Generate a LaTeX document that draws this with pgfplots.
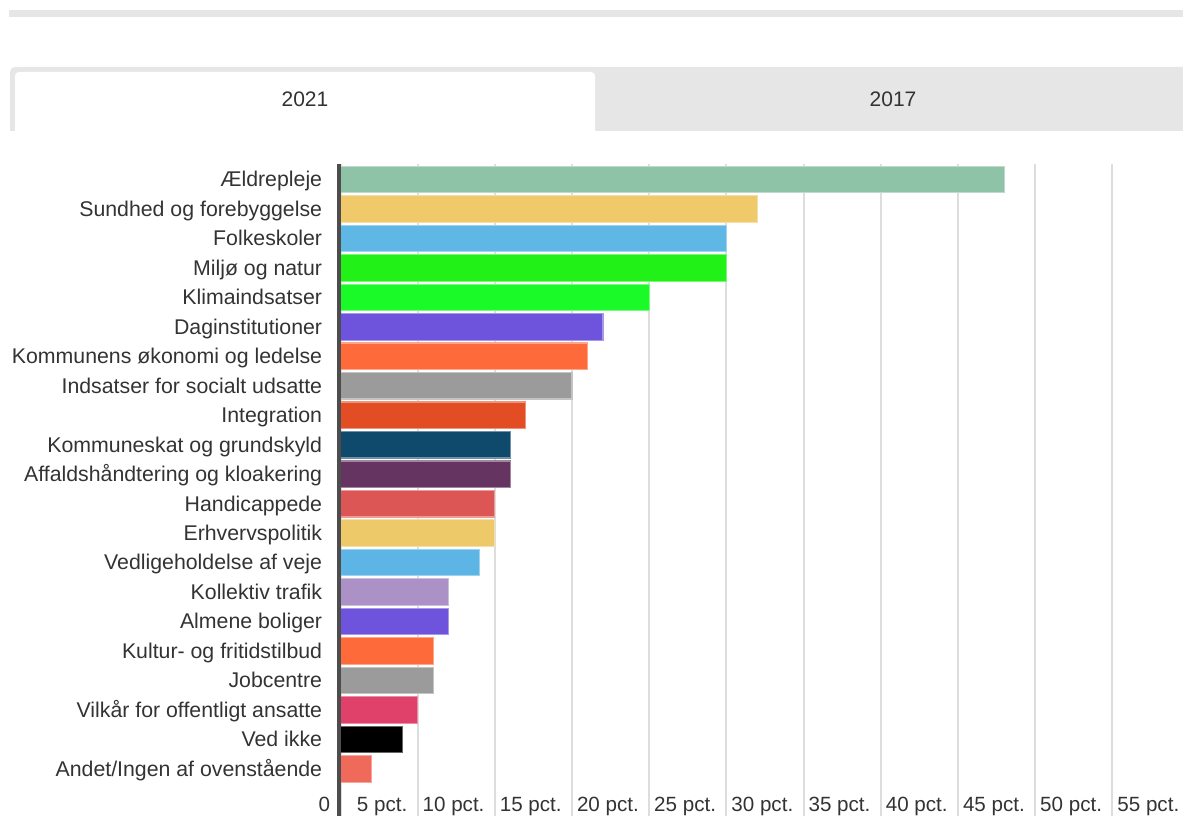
\documentclass[border=0pt]{standalone}
\usepackage{fontspec}
\setmainfont{Liberation Sans}
\usepackage{pgfplots}
\pgfplotsset{compat=1.18}

\definecolor{txt}{HTML}{333333}
\definecolor{tabgray}{HTML}{E6E6E6}
\definecolor{gridcol}{HTML}{DDDDDD}
\definecolor{axiscol}{HTML}{4D4D4D}
% bar colours, top to bottom
\definecolor{c20}{HTML}{8FC3A8}
\definecolor{c19}{HTML}{F0CA6A}
\definecolor{c18}{HTML}{5FB7E5}
\definecolor{c17}{HTML}{22F118}
\definecolor{c16}{HTML}{1AFA29}
\definecolor{c15}{HTML}{6E54DC}
\definecolor{c14}{HTML}{FF6A3A}
\definecolor{c13}{HTML}{9B9B9B}
\definecolor{c12}{HTML}{E34D24}
\definecolor{c11}{HTML}{0F4A6D}
\definecolor{c10}{HTML}{663461}
\definecolor{c9}{HTML}{DD5656}
\definecolor{c8}{HTML}{EEC96A}
\definecolor{c7}{HTML}{5DB5E5}
\definecolor{c6}{HTML}{AB91C6}
\definecolor{c5}{HTML}{6E54DC}
\definecolor{c4}{HTML}{FF6A3A}
\definecolor{c3}{HTML}{9B9B9B}
\definecolor{c2}{HTML}{E0416A}
\definecolor{c1}{HTML}{000000}
\definecolor{c0}{HTML}{F06A5C}

\pgfplotsset{
  b/.style={xbar, bar width=0.9, bar shift=0pt, fill=#1, draw=#1!60!white, line width=0.6pt},
}

\newcommand{\lab}{\fontsize{10.3}{12}\selectfont}
\newcommand{\ylab}{\fontsize{10.65}{12}\selectfont}

\begin{document}
\begin{tikzpicture}
\useasboundingbox (0,0) rectangle (591.5pt,408pt);

% page furniture, in reference pixels (y downwards)
\begin{scope}[yshift=408pt, x=0.5pt, y=-0.5pt]
  \fill[tabgray] (9,10) rectangle (1183,17);
  \fill[tabgray] (10,131) -- (10,72) arc[start angle=180, end angle=270, radius=5]
        -- (1183,67) -- (1183,131) -- cycle;
  \fill[white] (15,131) -- (15,76) arc[start angle=180, end angle=270, radius=4]
        -- (591,72) arc[start angle=270, end angle=360, radius=4] -- (595,131) -- cycle;
  \node[text=txt, font=\fontsize{10.5}{12}\selectfont] at (305,99) {2021};
  \node[text=txt, font=\fontsize{10.5}{12}\selectfont] at (893,99) {2017};
\end{scope}

\begin{axis}[
    at={(170.25pt,0pt)}, anchor=south west,
    scale only axis, width=421.25pt, height=326.25pt,
    xmin=0, xmax=54.57,
    ymin=-1.6, ymax=20.543,
    clip=false,
    axis line style={draw=none},
    major tick length=0pt,
    xmajorgrids,
    major grid style={gridcol, line width=1pt},
    xtick={0,5,...,50},
    xticklabels={0,5 pct.,10 pct.,15 pct.,20 pct.,25 pct.,30 pct.,35 pct.,40 pct.,45 pct.,50 pct.},
    xticklabel style={anchor=base east, inner sep=0pt, xshift=-5pt, yshift=2.2pt, text=txt, font=\lab},
    ytick={0,...,20},
    yticklabels={Andet/Ingen af ovenstående, Ved ikke, Vilkår for offentligt ansatte, Jobcentre,
      Kultur- og fritidstilbud, Almene boliger, Kollektiv trafik, Vedligeholdelse af veje,
      Erhvervspolitik, Handicappede, Affaldshåndtering og kloakering, Kommuneskat og grundskyld,
      Integration, Indsatser for socialt udsatte, Kommunens økonomi og ledelse, Daginstitutioner,
      Klimaindsatser, Miljø og natur, Folkeskoler, Sundhed og forebyggelse, Ældrepleje},
    yticklabel style={anchor=base east, inner sep=0pt, xshift=-9pt, yshift=-3.7pt, text=txt, font=\ylab},
]
\addplot[b=c20] coordinates {(43,20)};
\addplot[b=c19] coordinates {(27,19)};
\addplot[b=c18] coordinates {(25,18)};
\addplot[b=c17] coordinates {(25,17)};
\addplot[b=c16] coordinates {(20,16)};
\addplot[b=c15] coordinates {(17,15)};
\addplot[b=c14] coordinates {(16,14)};
\addplot[b=c13] coordinates {(15,13)};
\addplot[b=c12] coordinates {(12,12)};
\addplot[b=c11] coordinates {(11,11)};
\addplot[b=c10] coordinates {(11,10)};
\addplot[b=c9]  coordinates {(10,9)};
\addplot[b=c8]  coordinates {(10,8)};
\addplot[b=c7]  coordinates {(9,7)};
\addplot[b=c6]  coordinates {(7,6)};
\addplot[b=c5]  coordinates {(7,5)};
\addplot[b=c4]  coordinates {(6,4)};
\addplot[b=c3]  coordinates {(6,3)};
\addplot[b=c2]  coordinates {(5,2)};
\addplot[b=c1]  coordinates {(4,1)};
\addplot[b=c0]  coordinates {(2,0)};

% dark baseline at 0
\draw[axiscol, line width=1.7pt] ([xshift=-0.85pt]axis cs:0,-1.6) -- ([xshift=-0.85pt]axis cs:0,20.543);
% 55 lies just past the right edge, only its label shows
\node[anchor=base east, inner sep=0pt, text=txt, font=\lab] at ([xshift=-5pt, yshift=2.2pt]axis cs:55,-1.6) {55 pct.};
\end{axis}
\end{tikzpicture}
\end{document}
